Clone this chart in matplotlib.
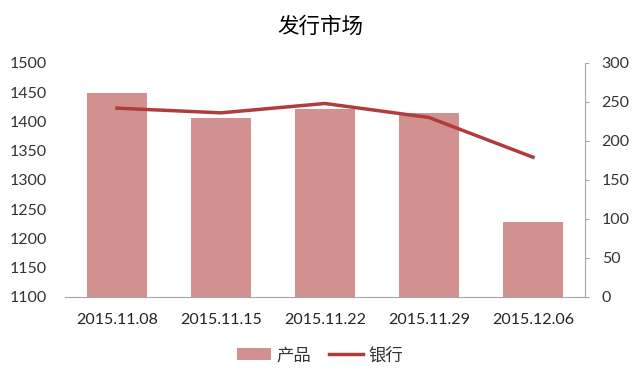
import matplotlib
matplotlib.use("Agg")
import matplotlib.pyplot as plt
import numpy as np

plt.rcParams['font.family'] = ['Lato', 'Noto Sans CJK SC', 'DejaVu Sans']

categories = ["2015.11.08", "2015.11.15", "2015.11.22", "2015.11.29", "2015.12.06"]
product = [1449, 1405, 1422, 1414, 1228]
bank = [242, 236, 248, 230, 179]

bar_color = "#D19191"
line_color = "#B03C3C"

fig = plt.figure(figsize=(6.4, 3.84), dpi=100)
ax = fig.add_axes([0.1016, 0.2273, 0.8125, 0.6087])
x = np.arange(len(categories))
bars = ax.bar(x, product, width=0.58, color=bar_color, label="产品", zorder=2)
ax.set_xlim(-0.5, len(categories) - 0.5)
ax.set_ylim(1100, 1500)
ax.set_yticks(np.arange(1100, 1501, 50))
ax.set_xticks(x)
ax.set_xticklabels(categories)
for s in ["top", "right", "left"]:
    ax.spines[s].set_visible(False)
ax.spines["bottom"].set_color("#A6A6A6")
ax.tick_params(axis="y", length=0, labelsize=11.5, colors="#333333", pad=13)
ax.tick_params(axis="x", length=0, labelsize=11.5, colors="#222222", pad=12)

ax2 = ax.twinx()
ln, = ax2.plot(x, bank, color=line_color, lw=2.5, label="银行", zorder=3)
ax2.set_ylim(0, 300)
ax2.set_yticks(np.arange(0, 301, 50))
for s in ["top", "left", "bottom"]:
    ax2.spines[s].set_visible(False)
ax2.spines["right"].set_color("#A6A6A6")
ax2.tick_params(axis="y", length=3, direction="out", color="#A6A6A6", labelsize=11.5, pad=9)
ax2.tick_params(axis="y", labelcolor="#333333")

title = fig.text(0.5, 0.93, "发行市场", ha="center", va="center", fontsize=15.5, fontweight="medium",
                 family=['Noto Sans CJK SC', 'DejaVu Sans'], color="#000000")

leg = fig.legend([bars, ln], ["产品", "银行"], loc="center", bbox_to_anchor=(0.5, 0.075),
                 ncol=2, frameon=False, handlelength=2.0, columnspacing=1.0,
                 handletextpad=0.3, prop={'family': ['Noto Sans CJK SC'], 'size': 12.5})
for t in leg.get_texts():
    t.set_color("#333333")

fig.savefig("out.png", dpi=100)
